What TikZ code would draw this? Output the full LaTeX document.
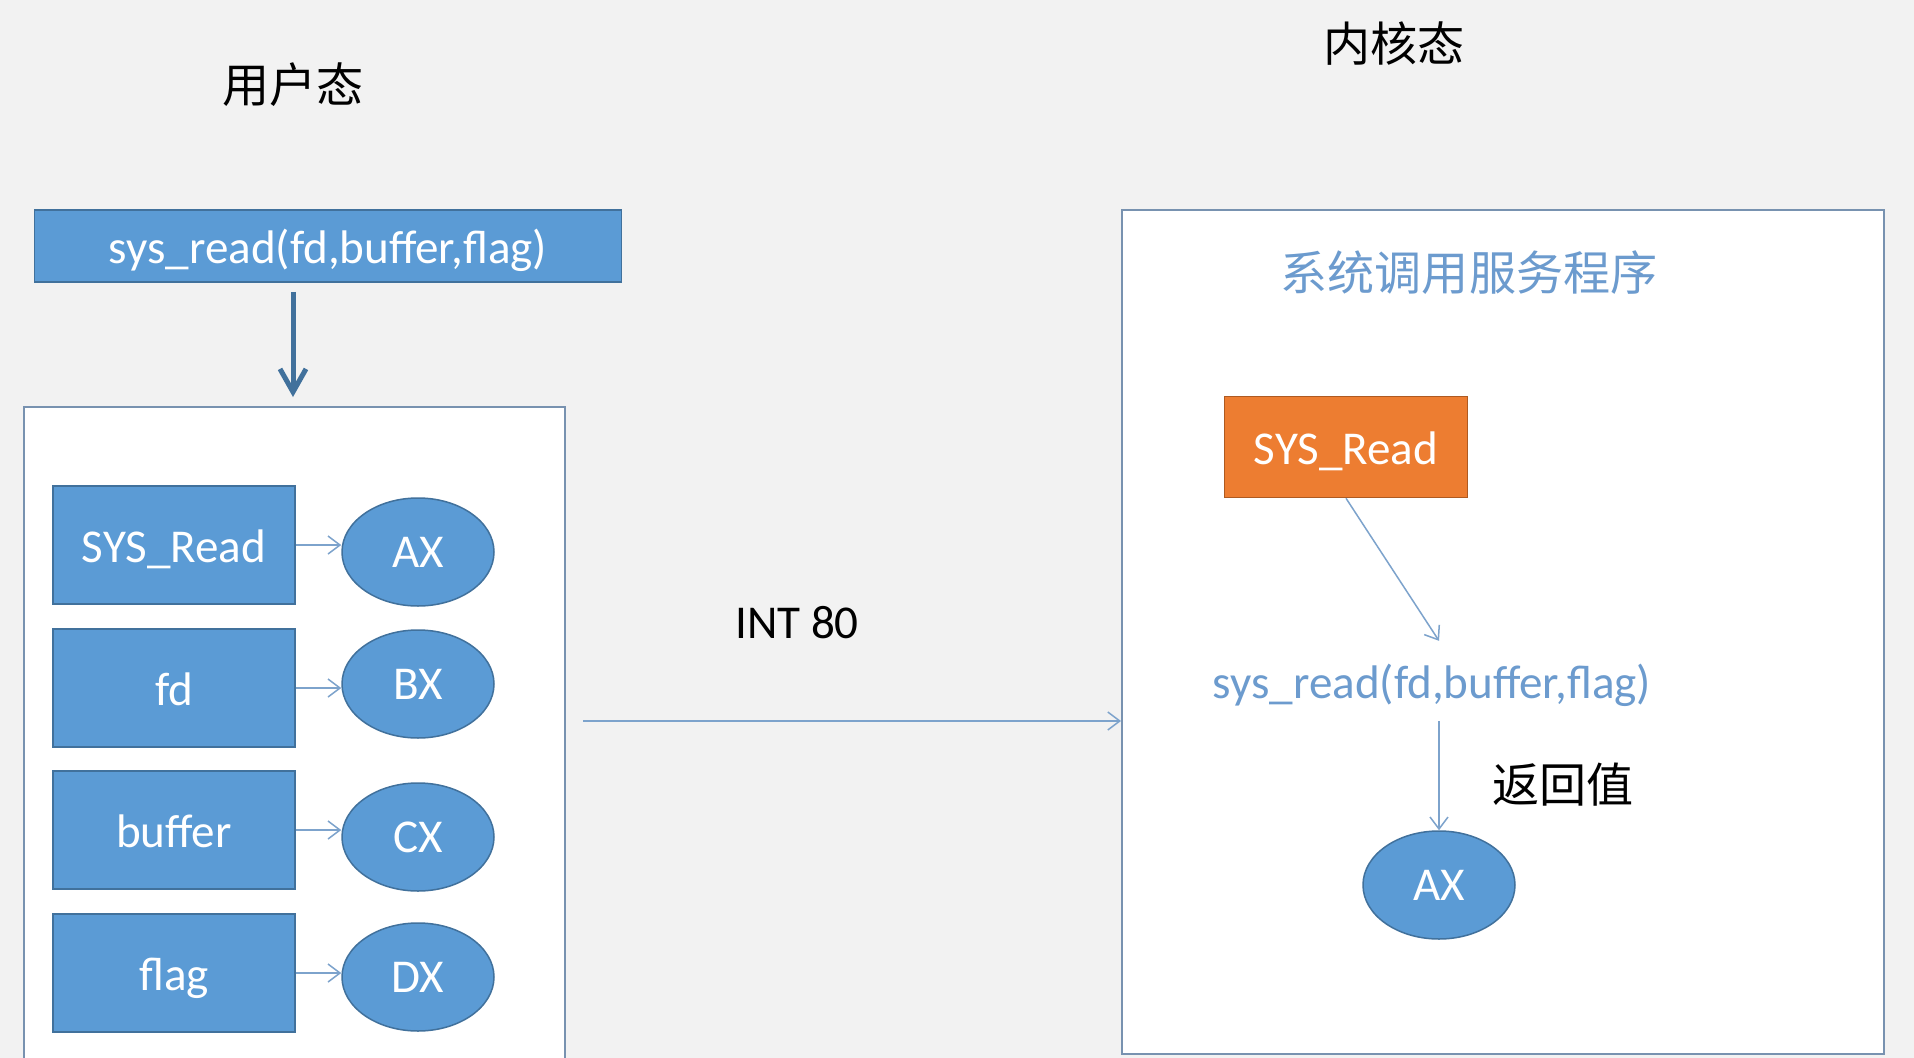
\documentclass[tikz,border=0pt]{standalone}
\usepackage{fontspec}
\setmainfont{Carlito}
\newfontfamily\cjk{Noto Sans CJK SC}
\usetikzlibrary{arrows.meta,shapes.geometric}
\definecolor{bgray}{RGB}{242,242,242}
\definecolor{regblue}{RGB}{91,155,213}
\definecolor{regedge}{RGB}{65,113,156}
\definecolor{sysorange}{RGB}{237,125,49}
\definecolor{orangeedge}{RGB}{174,90,33}
\definecolor{frameline}{RGB}{120,146,176}
\definecolor{linkblue}{RGB}{125,163,204}
\definecolor{titleblue}{RGB}{108,155,206}

\tikzset{
  txt/.style={font=\fontsize{13.4}{16}\selectfont},
  lowtxt/.style={txt, text height=12.6pt, text depth=2.7pt},
  regbox/.style={lowtxt, draw=regedge, fill=regblue, text=white, line width=0.15mm, minimum width=24.2mm, minimum height=11.8mm, inner sep=0},
  regell/.style={txt, ellipse, draw=regedge, fill=regblue, text=white, line width=0.15mm, minimum width=15.2mm, minimum height=10.8mm, inner sep=0},
  thinarrow/.style={draw=linkblue, line width=0.15mm, -{Straight Barb[length=1.2mm,width=1.8mm]}},
}

\begin{document}
\begin{tikzpicture}[x=0.1mm, y=-0.1mm]
	\fill[bgray] (0,0) rectangle (1914,1058);
	\useasboundingbox (0,0) rectangle (1914,1058);
	\node[txt] (usr) at (293,85) {\cjk 用户态};
	\node[txt] (krn) at (1394,44) {\cjk 内核态};
	% user side
	\node[regbox, minimum width=58.7mm, minimum height=7.2mm] (call) at (328,246) {sys\_read(fd,buffer,flag)};
	\fill[white] (24,1058) rectangle (565,407);
	\draw[frameline, line width=0.2mm] (24,1058) -- (24,407) -- (565,407) -- (565,1058);
	\coordinate (usrtop) at (293,407);
	\draw[regedge, line width=0.5mm, -{Straight Barb[length=2.3mm,width=2.6mm]}, shorten <=0.9mm, shorten >=1mm] (call.south -| usrtop) -- (usrtop);
	\foreach \i/\txt/\reg/\yb/\ye in {1/SYS\_Read/AX/545/552, 2/fd/BX/688/684, 3/buffer/CX/830/837, 4/flag/DX/973/977} {
		\node[regbox] (r\i) at (174,\yb) {\txt};
		\node[regell] (e\i) at (418,\ye) {\reg};
		\draw[thinarrow] (r\i.east) -- (r\i.east -| e\i.west);
	}
	% INT 80
	\node[txt] (int) at (797,623) {INT 80};
	\node[draw=frameline, fill=white, line width=0.2mm, minimum width=76.2mm, minimum height=84.4mm] (kern) at (1503,632) {};
	\coordinate (intstart) at (583,721);
	\draw[thinarrow] (intstart) -- (intstart -| kern.west);
	% kernel side
	\node[txt, text=titleblue] (svc) at (1469,273) {\cjk 系统调用服务程序};
	\node[regbox, fill=sysorange, draw=orangeedge, minimum width=24.3mm, minimum height=10.1mm] (sysnum) at (1346,447) {SYS\_Read};
	\node[lowtxt, text=titleblue, minimum height=7.9mm, inner sep=0] (kcall) at (1432,681) {sys\_read(fd,buffer,flag)};
	\node[regell] (ret) at (1439,885) {AX};
	\node[txt] (retlab) at (1563,785) {\cjk 返回值};
	\draw[thinarrow] (sysnum.south) -- (kcall.north -| ret);
	\draw[thinarrow] (kcall.south -| ret) -- (ret.north);
\end{tikzpicture}
\end{document}
